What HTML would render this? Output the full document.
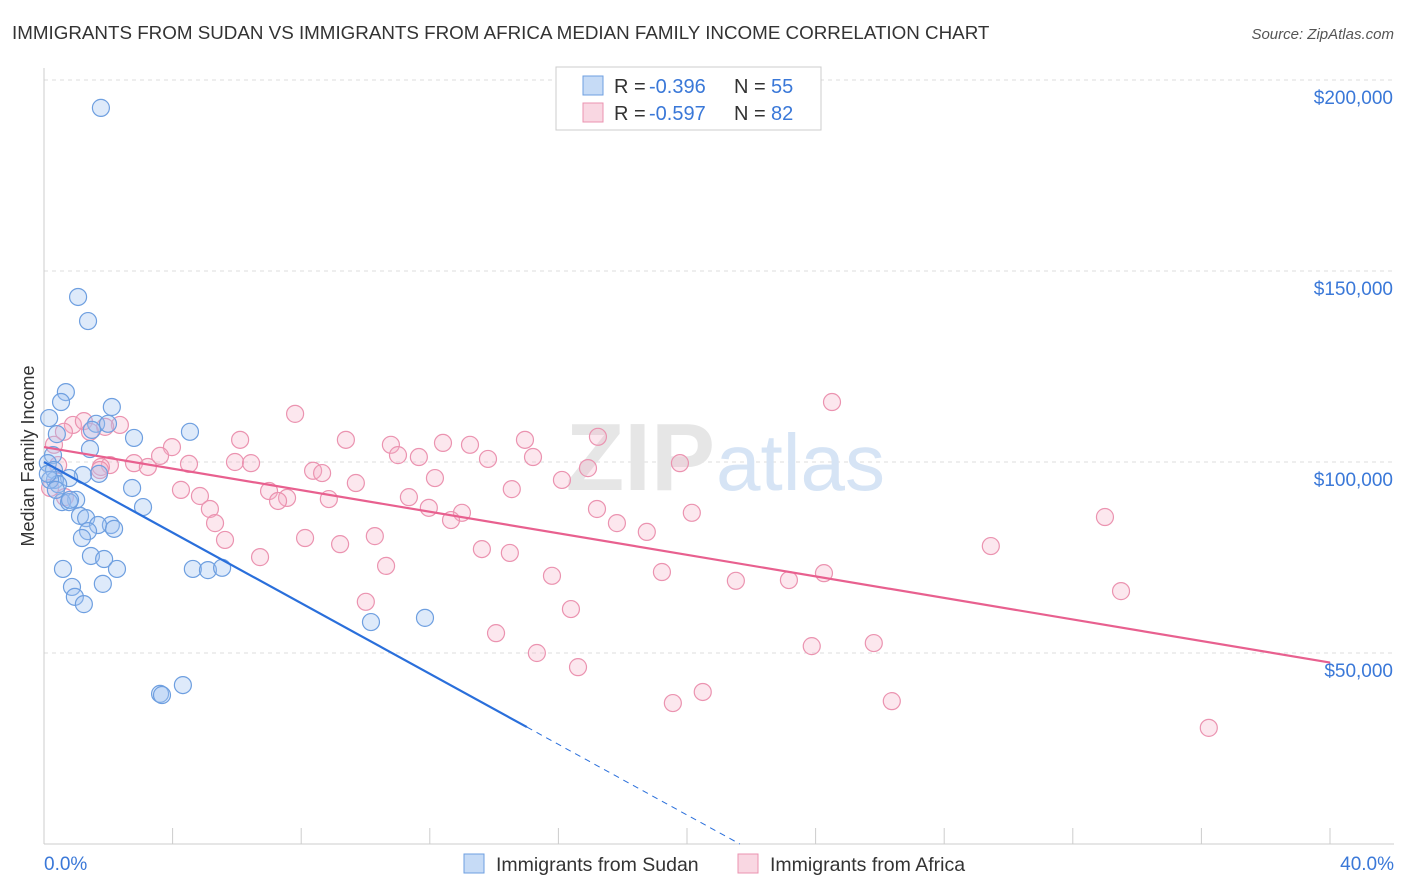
<!DOCTYPE html>
<html><head><meta charset="utf-8">
<style>
body{margin:0;background:#fff;font-family:"Liberation Sans",sans-serif;}
#wrap{position:relative;width:1406px;height:892px;overflow:hidden;}
svg text{font-family:"Liberation Sans",sans-serif;}
</style></head>
<body><div id="wrap">
<svg id="svg" width="1406" height="892"></svg>
</div>
<script>
const sudanX=[1.77,1.06,1.37,0.68,0.53,2.11,0.16,0.40,1.62,1.99,1.49,2.80,4.54,1.43,0.28,0.12,0.31,1.71,1.21,0.78,0.34,0.44,2.74,1.00,0.56,0.78,3.08,1.12,1.31,2.08,1.68,2.18,1.37,1.18,1.46,1.87,0.59,2.27,4.63,5.10,5.54,0.87,1.83,0.96,1.24,10.17,11.85,3.61,3.67,4.32,0.19,0.37,0.12,0.81];
const sudanY=[192.7,143.2,136.9,118.3,115.7,114.4,111.5,107.3,110.0,110.0,108.4,106.3,107.9,103.4,101.8,99.7,97.9,96.9,96.6,95.8,95.3,94.2,93.2,90.1,89.5,89.5,88.2,85.9,85.3,83.5,83.5,82.5,81.9,80.1,75.4,74.6,72.0,72.0,72.0,71.7,72.3,67.3,68.1,64.7,62.8,58.1,59.2,39.3,39.0,41.6,95.3,92.7,96.9,90.1];
const africaX=[7.81,24.51,33.0,33.5,29.45,0.90,1.24,2.36,0.62,0.31,1.90,17.23,14.96,12.41,13.25,9.39,6.10,10.79,3.98,3.61,2.05,2.80,11.01,11.66,13.81,15.21,19.78,4.51,5.94,6.44,3.23,8.37,1.77,8.65,16.92,16.11,9.70,12.16,14.55,4.26,4.85,7.00,7.56,7.28,8.86,11.35,11.97,13.0,12.66,17.20,17.82,20.15,5.16,5.32,5.63,8.12,9.21,10.29,13.62,14.49,18.75,6.72,10.64,15.80,19.22,21.52,23.17,24.26,10.01,16.39,14.06,15.33,16.61,23.88,25.81,19.56,20.49,26.37,36.23,0.19,0.65,1.43,0.44,1.74];
const africaY=[112.6,115.7,85.6,66.2,78.0,109.7,110.7,109.7,107.9,104.5,109.2,106.6,105.8,105.0,104.5,105.8,105.8,104.5,103.9,101.6,99.2,99.7,101.8,101.3,100.8,101.3,99.7,99.5,100.0,99.7,98.7,97.7,98.7,97.1,98.4,95.3,94.5,95.8,92.9,92.7,91.1,92.4,90.6,89.8,90.3,90.8,88.0,86.7,84.8,87.7,84.0,86.7,87.7,84.0,79.6,80.1,78.5,80.6,77.2,76.2,81.7,75.1,72.8,70.2,71.2,68.9,69.1,70.9,63.4,61.5,55.2,50.0,46.3,51.8,52.6,36.9,39.8,37.4,30.4,93.2,90.8,107.9,99.2,97.9];
const yTicks=[50,100,150,200];
const yTickLabels=["$50,000","$100,000","$150,000","$200,000"];
const trendSudan=[100.0,-4.62];
const trendAfrica=[103.9,-1.41];

const NS="http://www.w3.org/2000/svg";
const svg=document.getElementById('svg');
const X0=44,X1=1330,Y0=844;
const sx=v=>X0+(v/40)*(X1-X0);
const sy=v=>Y0-v*(191/50);
function el(t,a,p){const e=document.createElementNS(NS,t);for(const k in a)e.setAttribute(k,a[k]);(p||svg).appendChild(e);return e;}
function tx(x,y,s,a){const e=el('text',Object.assign({x:x,y:y},a));e.textContent=s;return e;}

let t=tx(12,39,"IMMIGRANTS FROM SUDAN VS IMMIGRANTS FROM AFRICA MEDIAN FAMILY INCOME CORRELATION CHART",{'font-size':18.8,fill:'#333'});


t=tx(1394,39,"Source: ZipAtlas.com",{'font-size':15,fill:'#555','text-anchor':'end','font-style':'italic'});



yTicks.forEach((v,i)=>{
 const g=el('line',{x1:X0,x2:1394,y1:sy(v),y2:sy(v),stroke:'#ddd','stroke-dasharray':'4,4'});
 
 
 const l=tx(1393,sy(v)+24,yTickLabels[i],{'font-size':19,fill:'#3a78d8','text-anchor':'end'});
 
 
});
let ax=el('line',{x1:X0,x2:X0,y1:68,y2:Y0,stroke:'#ccc'});


ax=el('line',{x1:X0,x2:1394,y1:Y0,y2:Y0,stroke:'#ccc'});


for(let i=0;i<=10;i++){const tk=el('line',{x1:sx(i*4),x2:sx(i*4),y1:828,y2:Y0,stroke:'#ccc'});
 
 }
t=tx(44,870,"0.0%",{'font-size':19,fill:'#3a78d8'});


t=tx(1394,870,"40.0%",{'font-size':19,fill:'#3a78d8','text-anchor':'end'});


t=tx(0,0,"Median Family Income",{'font-size':18,fill:'#333','text-anchor':'middle',transform:'translate(34,456) rotate(-90)'});



const wm=tx(715,490,"ZIP",{'font-size':96,fill:'#e6e6e6','text-anchor':'end','font-weight':'bold'});
wm.setAttribute('font-family','Liberation Serif');


const wm2=tx(716,490,"atlas",{'font-size':80,fill:'#d6e4f5'});



africaX.forEach((v,i)=>{const c=el('circle',{cx:sx(v),cy:sy(africaY[i]),r:8.5,fill:'rgba(244,176,198,0.3)',stroke:'#eb93b0','stroke-width':1.2});
 
 });
sudanX.forEach((v,i)=>{const c=el('circle',{cx:sx(v),cy:sy(sudanY[i]),r:8.5,fill:'rgba(160,195,240,0.35)',stroke:'#6e9fe0','stroke-width':1.2});
 
 });

const xs=15.02, xz=-trendSudan[0]/trendSudan[1];
let ln=el('line',{x1:sx(0),y1:sy(trendSudan[0]),x2:sx(xs),y2:sy(trendSudan[0]+trendSudan[1]*xs),stroke:'#2a6fdb','stroke-width':2.2});


ln=el('line',{x1:sx(xs),y1:sy(trendSudan[0]+trendSudan[1]*xs),x2:sx(xz),y2:sy(0),stroke:'#2a6fdb','stroke-width':1,'stroke-dasharray':'6,5'});


ln=el('line',{x1:sx(0),y1:sy(trendAfrica[0]),x2:sx(40),y2:sy(trendAfrica[0]+trendAfrica[1]*40),stroke:'#e8608f','stroke-width':2.2});



const lg=el('g',{});


el('rect',{x:556,y:67,width:265,height:63,fill:'#fff',stroke:'#ccc'},lg);
el('rect',{x:583,y:76,width:20,height:19,fill:'rgba(160,195,240,0.6)',stroke:'#6e9fe0'},lg);
el('rect',{x:583,y:103,width:20,height:19,fill:'rgba(244,176,198,0.5)',stroke:'#eb93b0'},lg);
[["-0.396","55",93],["-0.597","82",120]].forEach(r=>{
 const a=el('text',{x:614,y:r[2],'font-size':20,fill:'#333'},lg);a.textContent="R = ";
 const b=el('text',{x:649,y:r[2],'font-size':20,fill:'#3a78d8'},lg);b.textContent=r[0];
 const c=el('text',{x:734,y:r[2],'font-size':20,fill:'#333'},lg);c.textContent="N = ";
 const d=el('text',{x:771,y:r[2],'font-size':20,fill:'#3a78d8'},lg);d.textContent=r[1];
});
const bl=el('g',{});


el('rect',{x:464,y:854,width:20,height:19,fill:'rgba(160,195,240,0.6)',stroke:'#6e9fe0'},bl);
let e1=el('text',{x:496,y:871,'font-size':19.5,fill:'#333'},bl);e1.textContent="Immigrants from Sudan";
el('rect',{x:738,y:854,width:20,height:19,fill:'rgba(244,176,198,0.5)',stroke:'#eb93b0'},bl);
let e2=el('text',{x:770,y:871,'font-size':19.5,fill:'#333'},bl);e2.textContent="Immigrants from Africa";
</script>
</body></html>
